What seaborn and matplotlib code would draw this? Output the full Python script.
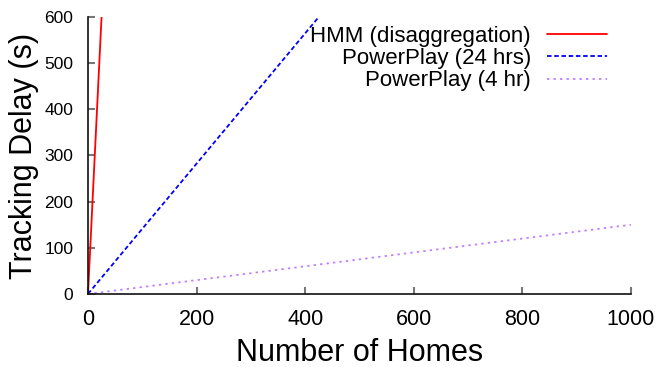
import pandas as pd
import matplotlib
matplotlib.use("Agg")
import matplotlib.pyplot as plt
import seaborn as sns

# =====================================================
# data
# =====================================================

homes_hmm = [0, 25]
delay_hmm = [0, 600]

homes_pp24 = [0, 425]
delay_pp24 = [0, 600]

homes_pp4 = [0, 1000]
delay_pp4 = [0, 150]

x_ticks = [0, 200, 400, 600, 800, 1000]
y_ticks = [0, 100, 200, 300, 400, 500, 600]

# =====================================================
# style
# =====================================================

sns.set_style("ticks")
plt.rcParams["font.family"] = ["Liberation Sans", "DejaVu Sans"]
plt.rcParams["text.color"] = "black"
plt.rcParams["axes.labelcolor"] = "black"
plt.rcParams["xtick.labelcolor"] = "black"
plt.rcParams["ytick.labelcolor"] = "black"

fig = plt.figure(figsize=(6.59, 3.67), dpi=100)
ax = fig.add_axes([0.1335, 0.199, 0.824, 0.7547])

sns.lineplot(x=homes_hmm, y=delay_hmm, ax=ax, color="#ff0000",
             linewidth=1.3, label="HMM (disaggregation)")
sns.lineplot(x=homes_pp24, y=delay_pp24, ax=ax, color="#0000ff",
             linewidth=1.3, linestyle=(0, (2.5, 1.5)), label="PowerPlay (24 hrs)")
sns.lineplot(x=homes_pp4, y=delay_pp4, ax=ax, color="#c080ff",
             linewidth=1.3, linestyle=(0, (1.3, 2.3)), label="PowerPlay (4 hr)")

ax.set_xlim(0, 1000)
ax.set_ylim(0, 600)
ax.set_xticks(x_ticks)
ax.set_yticks(y_ticks)

ax.tick_params(axis="both", direction="in", length=5, color="#777777", width=1.5)
ax.tick_params(axis="x", labelsize=15.5, pad=10.5)
ax.tick_params(axis="y", labelsize=12.5, pad=10.5)

for side in ["top", "right"]:
    ax.spines[side].set_visible(False)
for side in ["left", "bottom"]:
    ax.spines[side].set_color("#111111")
    ax.spines[side].set_linewidth(1.2)

ax.set_xlabel("Number of Homes", fontsize=22, labelpad=6)
ax.set_ylabel("Tracking Delay (s)", fontsize=22, labelpad=4)

ax.legend(
    loc="upper right",
    bbox_to_anchor=(0.955, 0.967),
    frameon=False,
    markerfirst=False,
    fontsize=16,
    handlelength=2.7,
    handletextpad=0.7,
    labelspacing=0.05,
    borderpad=0,
    borderaxespad=0
)

fig.savefig("out.png", dpi=100)
